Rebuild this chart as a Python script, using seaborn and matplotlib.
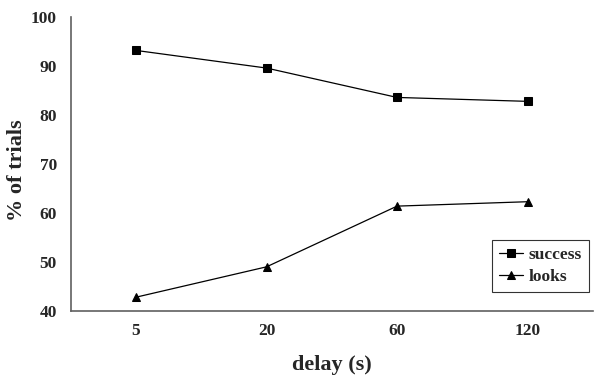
import matplotlib
matplotlib.use("Agg")
import matplotlib.pyplot as plt
import seaborn as sns
import pandas as pd
import numpy as np

categories = ["5", "20", "60", "120"]
success = [93.2, 89.6, 83.6, 82.8]
looks = [42.8, 49.0, 61.4, 62.3]

sns.set_style("white")
plt.rcParams['font.family'] = ['Liberation Serif', 'DejaVu Serif']
plt.rcParams['font.weight'] = 'bold'

df = pd.DataFrame({
    "pos": list(range(len(categories))) * 2,
    "value": success + looks,
    "series": ["success"] * len(categories) + ["looks"] * len(categories),
})

fig = plt.figure(figsize=(6, 3.81), dpi=100)
ax = fig.add_axes([0.118, 0.184, 0.87, 0.771])

sns.lineplot(data=df, x="pos", y="value", hue="series", style="series",
             markers={"success": "s", "looks": "^"}, dashes=False,
             palette={"success": "black", "looks": "black"},
             linewidth=0.9, markersize=5.5, markeredgecolor="black", ax=ax)

ax.set_xlim(-0.5, len(categories) - 0.5)
ax.set_ylim(40, 100)
ax.set_yticks(np.arange(40, 101, 10))
ax.set_xticks(range(len(categories)))
ax.set_xticklabels(categories)
ax.set_xticks(np.arange(-0.5, len(categories), 1.0), minor=True)
ax.tick_params(axis="x", which="major", length=0, pad=9, labelsize=12.5)
ax.tick_params(axis="x", which="minor", direction="in", length=4, color="#606060", width=1)
ax.tick_params(axis="y", which="major", direction="out", length=4, color="#606060", width=1, labelsize=12.5, pad=6)
for lab in ax.get_xticklabels() + ax.get_yticklabels():
    lab.set_fontweight("bold")

for s in ["top", "right"]:
    ax.spines[s].set_visible(False)
for s in ["left", "bottom"]:
    ax.spines[s].set_color("#606060")
    ax.spines[s].set_linewidth(1.2)

ax.set_xlabel("delay (s)", fontsize=16, fontweight="bold", labelpad=11)
ax.set_ylabel("% of trials", fontsize=16, fontweight="bold")
ax.yaxis.set_label_coords(-0.083, 0.48)

leg = ax.legend(loc="lower right", bbox_to_anchor=(0.992, 0.065), frameon=True,
                fancybox=False, edgecolor="black", fontsize=12.5, handlelength=1.4,
                handletextpad=0.3, borderpad=0.4, labelspacing=0.3, borderaxespad=0)
leg.get_frame().set_linewidth(0.8)
for t in leg.get_texts():
    t.set_fontweight("bold")

fig.savefig("out.png", dpi=100)
